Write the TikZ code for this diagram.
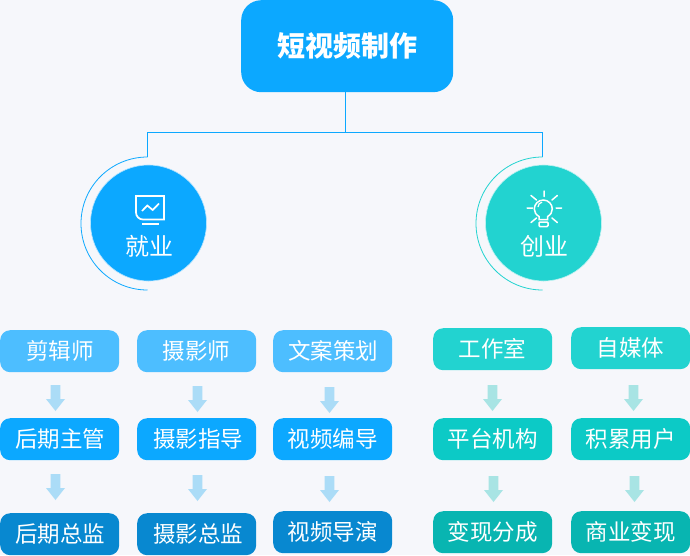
\documentclass[tikz,border=0pt]{standalone}
\usepackage{fontspec}
\setmainfont{Noto Sans CJK SC}
\definecolor{bg}{HTML}{F6F7FB}
\definecolor{bluea}{HTML}{4DBEFF}
\definecolor{blueb}{HTML}{0CA8FF}
\definecolor{bluec}{HTML}{0888D0}
\definecolor{tealb}{HTML}{0CCAC6}
\definecolor{teala}{HTML}{22D3D0}
\definecolor{tealc}{HTML}{08B5B1}
\definecolor{arrowblue}{HTML}{ABDCF7}
\definecolor{arrowteal}{HTML}{A8E4E4}
\tikzset{
 x=1pt,y=-1pt,
 rolebox/.style={rounded corners=10pt,minimum width=119pt,minimum height=42pt,inner sep=0pt,text=white,font=\fontsize{22.5}{24}\selectfont,anchor=north west},
 roundnode/.style={circle,minimum size=116pt,inner sep=0pt,draw=white!70!#1,line width=0.6pt,fill=#1},
 link/.style={draw=blueb,line width=0.8pt},
 halo/.style={line width=0.8pt},
 glyph/.style={draw=white,line width=1.7pt},
}
\newcommand{\downarr}[4]{% name x y colour
 \fill[#4] (#2-4.8,#3) -- (#2+4.8,#3) -- (#2+4.8,#3+14) -- (#2+9.5,#3+14) -- (#2,#3+26) -- (#2-9.5,#3+14) -- (#2-4.8,#3+14) -- cycle;
 \coordinate (#1) at (#2,#3);}
\newcommand{\nudge}[1]{\hspace*{#1pt}}
\begin{document}
\begin{tikzpicture}
\useasboundingbox (0,0) rectangle (690,555);
\fill[bg] (0,0) rectangle (690,555);
% root
\node[rounded corners=20pt,fill=blueb,minimum width=212pt,minimum height=92pt,inner sep=0pt,text=white,anchor=north west,font=\fontsize{28}{30}\selectfont\bfseries] (root) at (241,0) {\raisebox{-1pt}{短视频制作}};
% circles
\node[roundnode=blueb] (job) at (148.5,223) {};
\node[roundnode=teala] (biz) at (543.5,223) {};
\coordinate (jobtop) at (147.5,157);
\coordinate (biztop) at (542.5,157);
\coordinate (hub) at (345.5,132);
\draw[link] (root.south -| hub) -- (hub);
\draw[link] (jobtop) -- (jobtop |- hub) -- (biztop |- hub) -- (biztop);
\draw[blueb,halo] (jobtop) arc[start angle=-90,end angle=-270,radius=66.5];
\draw[teala,halo] (biztop) arc[start angle=-90,end angle=-270,radius=66.5];
\node[text=white,font=\fontsize{24}{26}\selectfont] (joblabel) at (149,246) {就业};
\node[text=white,font=\fontsize{24}{26}\selectfont] (bizlabel) at (544,246) {创业};
% monitor icon
\draw[glyph,line join=miter] (136,196) -- (164,196) -- (164,219.5) -- (143,219.5) arc[start angle=90,end angle=180,radius=7] -- cycle;
\draw[glyph,line width=2pt] (142,223.5) -- (159,223.5);
\draw[glyph,line join=miter] (142,211) -- (147.3,205.5) -- (152.7,210) -- (159,203.5);
% bulb icon
\draw[glyph,line width=1.5pt] (539,219.5) -- (539,216.5) .. controls (536,214.5) and (534.3,212.5) .. (534.3,209) arc[start angle=180,end angle=360,radius=9] .. controls (552.3,212.5) and (550.6,214.5) .. (547.6,216.5) -- (547.6,219.5) -- cycle;
\draw[glyph,line width=1.2pt] (538,207) arc[start angle=180,end angle=260,radius=5];
\draw[glyph,line width=1.5pt,rounded corners=1pt] (539,222) rectangle (548,226.5);
\draw[glyph,line width=1.5pt,line cap=round]
 (544,191) -- (544,196.5)
 (527,208) -- (532.5,208) (556,208) -- (561.5,208)
 (531,195.5) -- (536.5,200) (557.3,195.5) -- (552,200)
 (531,222.5) -- (536.5,218) (557.3,222.5) -- (552,218);
% boxes
\node[rolebox,fill=bluea] (a1) at (0,330) {\nudge{1}剪辑师};
\node[rolebox,fill=blueb] (a2) at (0,418) {\nudge{1}后期主管};
\node[rolebox,fill=bluec] (a3) at (0,513) {\nudge{1}后期总监};
\node[rolebox,fill=bluea] (b1) at (137,330) {摄影师};
\node[rolebox,fill=blueb] (b2) at (137,418) {\nudge{3}摄影指导};
\node[rolebox,fill=bluec] (b3) at (137,513) {\nudge{3}摄影总监};
\node[rolebox,fill=bluea] (c1) at (273,330) {\nudge{1}文案策划};
\node[rolebox,fill=blueb] (c2) at (273,418) {视频编导};
\node[rolebox,fill=bluec] (c3) at (273,511) {视频导演};
\node[rolebox,fill=teala] (d1) at (433,328) {工作室};
\node[rolebox,fill=tealb] (d2) at (433,418) {平台机构};
\node[rolebox,fill=tealc] (d3) at (433,511) {变现分成};
\node[rolebox,fill=teala] (e1) at (571,327) {自媒体};
\node[rolebox,fill=tealb] (e2) at (571,418) {积累用户};
\node[rolebox,fill=tealc] (e3) at (571,511) {商业变现};
% arrows
\downarr{ar1}{55.5}{385}{arrowblue}
\downarr{ar2}{55.5}{474}{arrowblue}
\downarr{ar3}{197.5}{386}{arrowblue}
\downarr{ar4}{197.5}{475}{arrowblue}
\downarr{ar5}{329.5}{387}{arrowblue}
\downarr{ar6}{329.5}{476}{arrowblue}
\downarr{ar7}{492.5}{385}{arrowteal}
\downarr{ar8}{493.5}{476}{arrowteal}
\downarr{ar9}{633.5}{385}{arrowteal}
\downarr{ar10}{634.5}{476}{arrowteal}
\end{tikzpicture}
\end{document}
